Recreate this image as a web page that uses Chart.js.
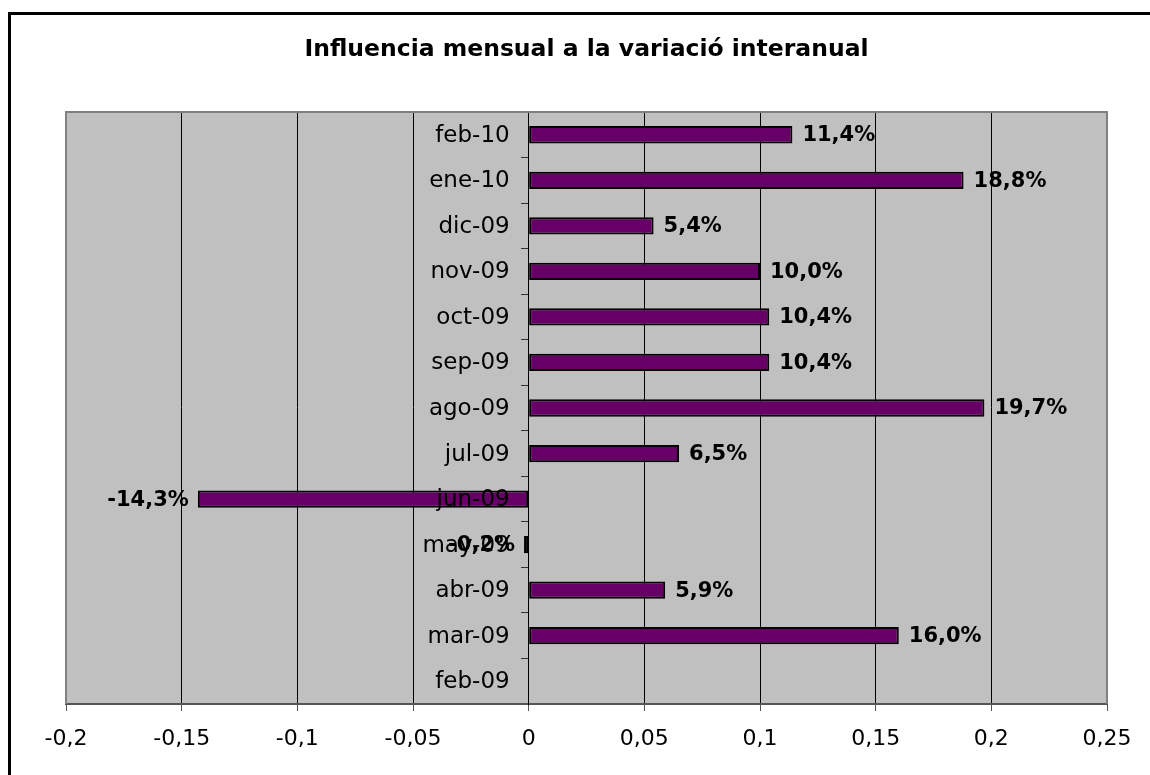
<!DOCTYPE html>
<html>
<head>
<meta charset="utf-8">
<script src="https://cdn.jsdelivr.net/npm/chart.js@4/dist/chart.umd.min.js"></script>
<style>
  html, body { margin: 0; padding: 0; background: #fff; }
  #wrap { position: relative; width: 1150px; height: 775px; }
</style>
</head>
<body>
<div id="wrap"><canvas id="chart" width="1150" height="775"></canvas></div>
<script>
// ========== Data ==========
const months = ["feb-09", "mar-09", "abr-09", "may-09", "jun-09", "jul-09", "ago-09",
                "sep-09", "oct-09", "nov-09", "dic-09", "ene-10", "feb-10"];
const influence = [null, 0.160, 0.059, -0.002, -0.143, 0.065, 0.197,
                   0.104, 0.104, 0.100, 0.054, 0.188, 0.114];
const xMin = -0.2;
const xMax = 0.25;
const xStep = 0.05;

const titleText = "Influencia mensual a la variació interanual";

// ========== Helpers ==========
function pct(v) {
  return (v * 100).toFixed(1).replace(".", ",") + "%";
}
function comma(v) {
  return String(Math.round(v * 100) / 100).replace(".", ",");
}

// plot background, border, outer frame
const plotFrame = {
  id: "plotFrame",
  beforeDraw(chart) {
    const { ctx, chartArea: a } = chart;
    ctx.save();
    ctx.fillStyle = "#c0c0c0";
    ctx.fillRect(a.left, a.top, a.right - a.left, a.bottom - a.top);
    ctx.restore();
  },
  afterDatasetsDraw(chart) {
    const { ctx, chartArea: a } = chart;
    ctx.save();
    ctx.strokeStyle = "#808080";
    ctx.lineWidth = 2;
    ctx.beginPath();
    ctx.moveTo(a.left, a.bottom);
    ctx.lineTo(a.left, a.top);
    ctx.lineTo(a.right, a.top);
    ctx.lineTo(a.right, a.bottom);
    ctx.stroke();
    // outer frame (top + left only, the rest is cut off)
    ctx.strokeStyle = "#000";
    ctx.lineWidth = 3;
    ctx.beginPath();
    ctx.moveTo(9.5, 775);
    ctx.lineTo(9.5, 13.5);
    ctx.lineTo(1150, 13.5);
    ctx.stroke();
    ctx.restore();
  },
};

// category names at the zero line, drawn over the bars
const categoryLabels = {
  id: "categoryLabels",
  afterDatasetsDraw(chart) {
    const { ctx, scales: { x, y } } = chart;
    const x0 = x.getPixelForValue(0);
    ctx.save();
    ctx.font = "23px 'DejaVu Sans'";
    ctx.fillStyle = "#000";
    ctx.textAlign = "right";
    ctx.textBaseline = "middle";
    months.forEach((m, i) => {
      ctx.fillText(m, x0 - 19, y.getPixelForValue(i) + 1);
    });
    ctx.restore();
  },
};

// value labels next to each bar
const barLabels = {
  id: "barLabels",
  afterDraw(chart) {
    const { ctx } = chart;
    const meta = chart.getDatasetMeta(0);
    ctx.save();
    ctx.font = "bold 21px 'DejaVu Sans'";
    ctx.fillStyle = "#000";
    ctx.textBaseline = "middle";
    meta.data.forEach((bar, i) => {
      const v = influence[i];
      if (v === null) return;
      if (v < 0) {
        ctx.textAlign = "right";
        ctx.fillText(pct(v), bar.x - 9, bar.y + 1);
      } else {
        ctx.textAlign = "left";
        ctx.fillText(pct(v), bar.x + 10, bar.y + 1);
      }
    });
    ctx.restore();
  },
};

// ========== Chart ==========
const ctx = document.getElementById("chart").getContext("2d");
new Chart(ctx, {
  type: "bar",
  data: {
    labels: months,
    datasets: [{
      data: influence,
      backgroundColor: "#660066",
      borderColor: "#000",
      borderWidth: 2,
      borderSkipped: false,
      categoryPercentage: 1,
      barPercentage: 0.38,
    }],
  },
  options: {
    indexAxis: "y",
    responsive: false,
    animation: false,
    layout: { padding: { left: 66, right: 43, top: 0, bottom: 0 } },
    plugins: {
      legend: { display: false },
      tooltip: { enabled: false },
      title: {
        display: true,
        text: titleText,
        color: "#000",
        font: { family: "'DejaVu Sans'", size: 23.5, weight: "bold", lineHeight: 1.2 },
        padding: { top: 36, bottom: 47.8 },
      },
    },
    scales: {
      x: {
        type: "linear",
        min: xMin,
        max: xMax,
        afterFit: (s) => { s.height = 71; },
        ticks: {
          stepSize: xStep,
          color: "#000",
          padding: 15,
          font: { family: "'DejaVu Sans'", size: 22 },
          callback: (v) => comma(v),
        },
        grid: {
          color: (c) => (c.tick && (Math.abs(c.tick.value - xMin) < 1e-9 || Math.abs(c.tick.value - xMax) < 1e-9)) ? "rgba(0,0,0,0)" : "#000",
          lineWidth: 1,
          tickColor: "#555",
          tickLength: 7,
        },
        border: { color: "#555", width: 2 },
      },
      y: {
        type: "category",
        reverse: true,
        position: { x: 0 },
        ticks: { display: false },
        grid: {
          drawOnChartArea: false,
          drawTicks: true,
          tickLength: 7,
          tickColor: "#333",
          offset: true,
        },
        border: { color: "#000", width: 1 },
      },
    },
  },
  plugins: [plotFrame, categoryLabels, barLabels],
});
</script>
</body>
</html>
